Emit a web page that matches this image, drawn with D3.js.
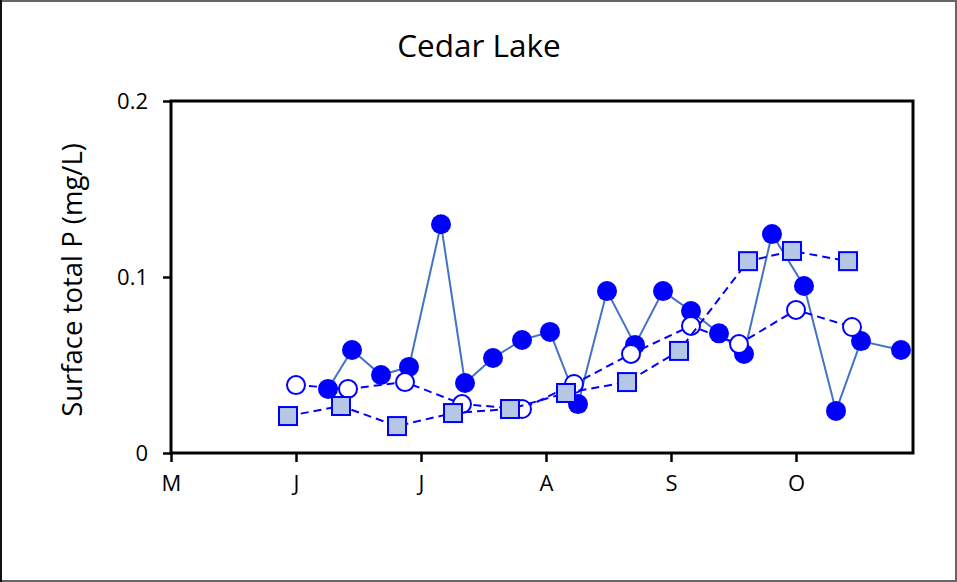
<!DOCTYPE html>
<html>
<head>
<meta charset="utf-8">
<script src="https://cdn.jsdelivr.net/npm/d3@7/dist/d3.min.js"></script>
<style>
  html, body { margin: 0; padding: 0; background: #fff; }
  svg { display: block; }
  text { font-family: "Open Sans", "Noto Sans", sans-serif; fill: #000; }
</style>
</head>
<body>
<svg id="chart" width="957" height="582"></svg>
<script>
// ---- data (x in months after 1 May; y in mg/L) ----
const monthLabels = ["M", "J", "J", "A", "S", "O"];
const monthTicks = [0, 1, 2, 3, 4, 5];
const yTicks = [0, 0.1, 0.2];
const yTickLabels = ["0", "0.1", "0.2"];

const filledX = [1.256, 1.448, 1.68, 1.904, 2.16, 2.352, 2.576, 2.808, 3.032, 3.256, 3.488, 3.712, 3.936, 4.16, 4.384, 4.584, 4.808, 5.064, 5.32, 5.52, 5.84];
const filledY = [0.0364, 0.0585, 0.0443, 0.0489, 0.130, 0.0398, 0.054, 0.0642, 0.0688, 0.0278, 0.092, 0.0614, 0.092, 0.0807, 0.068, 0.0563, 0.1244, 0.0949, 0.0239, 0.0636, 0.0585];

const openX = [1.0, 1.416, 1.872, 2.328, 2.808, 3.224, 3.68, 4.16, 4.544, 5.0, 5.448];
const openY = [0.0386, 0.0364, 0.0403, 0.0278, 0.025, 0.0392, 0.0563, 0.0722, 0.0619, 0.0813, 0.0716];

const squareX = [0.936, 1.36, 1.808, 2.256, 2.712, 3.16, 3.648, 4.064, 4.616, 4.968, 5.416];
const squareY = [0.021, 0.0267, 0.0153, 0.0227, 0.025, 0.0341, 0.0403, 0.058, 0.109, 0.1148, 0.109];

const title = "Cedar Lake";
const yLabel = "Surface total P (mg/L)";

// ---- layout ----
const W = 957, H = 582;
const plot = { left: 171, right: 913, top: 101, bottom: 453 };

const svg = d3.select("#chart");

// outer border
svg.append("rect")
  .attr("x", 1).attr("y", 1).attr("width", W - 2).attr("height", H - 2)
  .attr("fill", "#fff").attr("stroke", "#666").attr("stroke-width", 2);
svg.append("line").attr("x1", 1).attr("x2", 1).attr("y1", 0).attr("y2", H)
  .attr("stroke", "#111").attr("stroke-width", 2);

const x = d3.scaleLinear().domain([0, (plot.right - plot.left) / 125]).range([plot.left, plot.right]);
const y = d3.scaleLinear().domain([0, 0.2]).range([plot.bottom, plot.top]);

// title
svg.append("text")
  .attr("x", 479).attr("y", 57)
  .attr("text-anchor", "middle")
  .style("font-size", "31.5px")
  .text(title);

// y axis label
svg.append("text")
  .attr("transform", `translate(82, ${(plot.top + plot.bottom) / 2 + 3}) rotate(-90)`)
  .attr("text-anchor", "middle")
  .style("font-size", "27.5px")
  .text(yLabel);

// axes
const yAxis = d3.axisLeft(y).tickValues(yTicks)
  .tickFormat((d, i) => yTickLabels[i]).tickSize(8).tickPadding(15);
const gy = svg.append("g").attr("transform", `translate(${plot.left},0)`).call(yAxis);
gy.select(".domain").remove();
gy.selectAll(".tick line").attr("stroke", "#000").attr("stroke-width", 2.5);
gy.selectAll(".tick text").style("font-size", "22px").style("font-family", "'Open Sans', sans-serif");

const xAxis = d3.axisBottom(x).tickValues(monthTicks)
  .tickFormat((d, i) => monthLabels[i]).tickSize(9).tickPadding(13);
const gx = svg.append("g").attr("transform", `translate(0,${plot.bottom})`).call(xAxis);
gx.select(".domain").remove();
gx.selectAll(".tick line").attr("stroke", "#000").attr("stroke-width", 2.5);
gx.selectAll(".tick text").style("font-size", "22px").style("font-family", "'Open Sans', sans-serif");

// frame
svg.append("rect")
  .attr("x", plot.left).attr("y", plot.top)
  .attr("width", plot.right - plot.left).attr("height", plot.bottom - plot.top)
  .attr("fill", "none").attr("stroke", "#000").attr("stroke-width", 3);

const line = d3.line().x(d => x(d[0])).y(d => y(d[1]));

// filled circles series
const filled = filledX.map((v, i) => [v, filledY[i]]);
svg.append("path").datum(filled)
  .attr("d", line).attr("fill", "none")
  .attr("stroke", "#4472C4").attr("stroke-width", 2);
svg.append("g").selectAll("circle").data(filled).join("circle")
  .attr("cx", d => x(d[0])).attr("cy", d => y(d[1])).attr("r", 10)
  .attr("fill", "#0000FF");

// open circles series
const open = openX.map((v, i) => [v, openY[i]]);
svg.append("path").datum(open)
  .attr("d", line).attr("fill", "none")
  .attr("stroke", "#0000FF").attr("stroke-width", 2).attr("stroke-dasharray", "8,5");
svg.append("g").selectAll("circle").data(open).join("circle")
  .attr("cx", d => x(d[0])).attr("cy", d => y(d[1])).attr("r", 9)
  .attr("fill", "#fff").attr("stroke", "#0000FF").attr("stroke-width", 2);

// squares series
const sq = squareX.map((v, i) => [v, squareY[i]]);
svg.append("path").datum(sq)
  .attr("d", line).attr("fill", "none")
  .attr("stroke", "#0000FF").attr("stroke-width", 2).attr("stroke-dasharray", "8,5");
const s = 18;
svg.append("g").selectAll("rect").data(sq).join("rect")
  .attr("x", d => x(d[0]) - s / 2).attr("y", d => y(d[1]) - s / 2)
  .attr("width", s).attr("height", s)
  .attr("fill", "#B4C7E7").attr("stroke", "#0000FF").attr("stroke-width", 2);
</script>
</body>
</html>
